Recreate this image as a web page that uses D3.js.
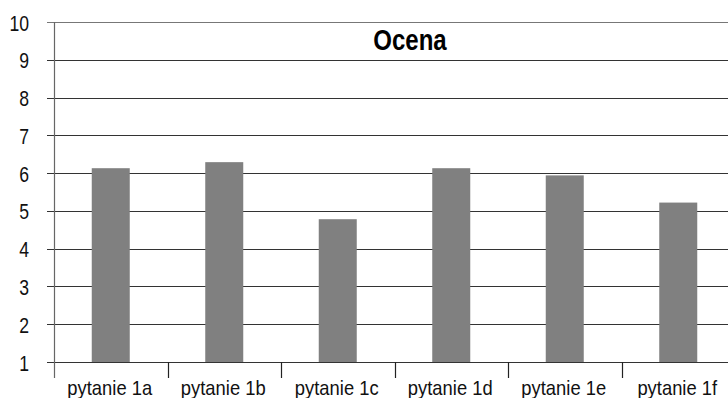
<!DOCTYPE html>
<html>
<head>
<meta charset="utf-8">
<script src="https://cdn.jsdelivr.net/npm/d3@7"></script>
<style>
  body { margin: 0; background: #fff; }
  text { font-family: "Liberation Sans", Arial, sans-serif; }
</style>
</head>
<body>
<div id="chart"></div>
<script>
// dane wykresu
const categories = ["pytanie 1a", "pytanie 1b", "pytanie 1c", "pytanie 1d", "pytanie 1e", "pytanie 1f"];
const values = [6.13, 6.29, 4.78, 6.13, 5.94, 5.22];
const yTicks = [1, 2, 3, 4, 5, 6, 7, 8, 9, 10];
const title = "Ocena";

const width = 728, height = 398;
const margin = { top: 22, right: -7, bottom: 36, left: 54 };
// czcionka w oryginale jest wąska (condensed) – ściskamy tekst w poziomie
const squeeze = 0.8;

const svg = d3.select("#chart").append("svg")
    .attr("width", width)
    .attr("height", height);

const x = d3.scaleBand()
    .domain(categories)
    .range([margin.left, width - margin.right])
    .paddingInner(0)
    .paddingOuter(0);

const y = d3.scaleLinear()
    .domain([1, 10])
    .range([height - margin.bottom, margin.top]);

// linie siatki
svg.append("g")
    .selectAll("line")
    .data(yTicks)
    .join("line")
    .attr("x1", margin.left - 7)
    .attr("x2", width)
    .attr("y1", d => Math.round(y(d)) + 0.5)
    .attr("y2", d => Math.round(y(d)) + 0.5)
    .attr("stroke", d => d === 10 ? "#777" : "#333")
    .attr("stroke-width", 1.2);

// słupki
const barW = 38;
svg.append("g")
    .selectAll("rect")
    .data(values)
    .join("rect")
    .attr("x", (d, i) => x(categories[i]) + x.bandwidth() / 2 - barW / 2)
    .attr("width", barW)
    .attr("y", d => y(d))
    .attr("height", d => y(1) - y(d))
    .attr("fill", "#808080");

// oś Y
svg.append("line")
    .attr("x1", margin.left + 0.5).attr("x2", margin.left + 0.5)
    .attr("y1", y(10)).attr("y2", y(1) + 16)
    .attr("stroke", "#666").attr("stroke-width", 1.2);

svg.append("g")
    .selectAll("text")
    .data(yTicks)
    .join("text")
    .attr("transform", d => `translate(29,${y(d) + 8.5}) scale(${squeeze},1)`)
    .attr("text-anchor", "end")
    .style("font-size", "22px")
    .style("fill", "#111")
    .text(d => d);

// oś X – znaczniki między kategoriami
svg.append("g")
    .selectAll("line")
    .data(categories.slice(1))
    .join("line")
    .attr("x1", d => Math.round(x(d)) + 0.5)
    .attr("x2", d => Math.round(x(d)) + 0.5)
    .attr("y1", y(1))
    .attr("y2", y(1) + 16)
    .attr("stroke", "#222")
    .attr("stroke-width", 1.2);

svg.append("g")
    .selectAll("text")
    .data(categories)
    .join("text")
    .attr("transform", d => `translate(${x(d) + x.bandwidth() / 2 - 1},395) scale(0.92,1)`)
    .attr("text-anchor", "middle")
    .style("font-size", "20px")
    .style("fill", "#111")
    .text(d => d);

// tytuł
svg.append("text")
    .attr("transform", `translate(410,50) scale(${squeeze},1)`)
    .attr("text-anchor", "middle")
    .style("font-size", "30px")
    .style("font-weight", "bold")
    .style("fill", "#000")
    .text(title);
</script>
</body>
</html>
